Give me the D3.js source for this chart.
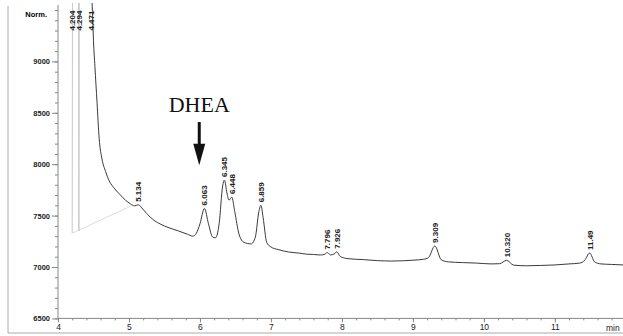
<!DOCTYPE html>
<html>
<head>
<meta charset="utf-8">
<script src="https://cdn.jsdelivr.net/npm/d3@7"></script>
<style>
  body { margin: 0; background: #fff; }
  svg { display: block; }
  .axis text { font-family: "Liberation Sans", Arial, sans-serif; fill: #222; }
  .axis path, .axis line { stroke: #888; }
  .peakLabel { font-family: "Liberation Sans", Arial, sans-serif; font-size: 8px; font-weight: bold; fill: #222; }
</style>
</head>
<body>
<script>
// chromatogram trace (retention time in min, signal in Norm.)
const solventTime  = [4.200, 4.204, 4.210, 4.290, 4.294, 4.300, 4.310, 4.380, 4.471];
const solventValue = [7330, 9700, 9700, 9700, 7350, 9700, 9700, 9700, 9700];

const traceTime = [4.471, 4.49, 4.50, 4.52, 4.55, 4.58, 4.62, 4.67, 4.72, 4.80, 4.88, 4.95, 5.02, 5.08,
  5.134, 5.18, 5.25, 5.35, 5.45, 5.55, 5.70, 5.82, 5.90, 5.95, 6.00, 6.063, 6.12, 6.18, 6.22,
  6.27, 6.32, 6.345, 6.38, 6.41, 6.448, 6.49, 6.55, 6.62, 6.72, 6.78, 6.83, 6.859, 6.89, 6.94,
  7.00, 7.10, 7.25, 7.40, 7.50, 7.60, 7.70, 7.75, 7.796, 7.84, 7.90, 7.926, 7.98, 8.10, 8.30,
  8.50, 8.70, 9.00, 9.15, 9.22, 9.309, 9.40, 9.50, 9.70, 9.90, 10.10, 10.22, 10.320, 10.42,
  10.60, 10.80, 11.00, 11.20, 11.35, 11.42, 11.49, 11.56, 11.65, 11.80, 11.96];
const traceValue = [9700, 9400, 9200, 8950, 8600, 8250, 8050, 7930, 7840, 7760, 7700, 7650, 7615, 7595,
  7605, 7575, 7520, 7455, 7415, 7385, 7350, 7320, 7300, 7330, 7420, 7570, 7420, 7290, 7285,
  7420, 7790, 7846, 7720, 7650, 7680, 7540, 7320, 7240, 7225, 7290, 7540, 7600, 7480, 7240,
  7195, 7170, 7146, 7135, 7125, 7122, 7117, 7122, 7140, 7118, 7130, 7148, 7100, 7080, 7072,
  7062, 7058, 7066, 7075, 7092, 7205, 7070, 7050, 7043, 7038, 7030, 7032, 7065, 7018,
  7012, 7015, 7020, 7030, 7038, 7065, 7136, 7050, 7030, 7025, 7020];

// integrated peaks: retention time label and apex height
const peakTime  = [5.134, 6.063, 6.345, 6.448, 6.859, 7.796, 7.926, 9.309, 10.320, 11.49];
const peakValue = [7605, 7570, 7846, 7680, 7600, 7140, 7148, 7205, 7065, 7136];
const peakLabel = ["5.134", "6.063", "6.345", "6.448", "6.859", "7.796", "7.926", "9.309", "10.320", "11.49"];

// off-scale solvent peaks, labelled at the top of the plot
const solventPeakTime  = [4.204, 4.294, 4.471];
const solventPeakLabel = ["4.204", "4.294", "4.471"];

// faint integration baseline
const baseTime  = [4.204, 5.05];
const baseValue = [7330, 7600];

const xTicks = [4, 5, 6, 7, 8, 9, 10, 11];
const yTicks = [6500, 7000, 7500, 8000, 8500, 9000];

const width = 623, height = 336;

const svg = d3.select("body").append("svg")
  .attr("width", width)
  .attr("height", height);

const x = d3.scaleLinear().domain([4, 11.96]).range([58, 623]);
const y = d3.scaleLinear().domain([6500, 9500]).range([318.4, 10]);

// outer frame (left and bottom only, as scanned)
svg.append("path")
  .attr("d", `M8,6V333H${width}`)
  .attr("fill", "none")
  .attr("stroke", "#aaa")
  .attr("stroke-width", 1);

svg.append("defs").append("clipPath")
  .attr("id", "plot")
  .append("rect")
  .attr("x", x.range()[0])
  .attr("y", 3)
  .attr("width", x.range()[1] - x.range()[0])
  .attr("height", y(6500) - 3);

// y axis: minor then major
const yMinor = d3.range(6500, 9501, 100);
svg.append("g")
  .attr("class", "axis")
  .attr("transform", `translate(${x(4)},0)`)
  .call(d3.axisLeft(y).tickValues(yMinor).tickSize(3).tickFormat(""))
  .call(g => g.select(".domain").attr("d", `M0,${y(6500)}V5`));

svg.append("g")
  .attr("class", "axis")
  .attr("transform", `translate(${x(4)},0)`)
  .call(d3.axisLeft(y).tickValues(yTicks).tickSize(6).tickPadding(2).tickFormat(d3.format("d")))
  .call(g => g.select(".domain").remove())
  .call(g => g.selectAll("text").style("font-size", "7.5px").style("font-weight", "bold"));

svg.append("text")
  .attr("class", "axis")
  .attr("x", 47)
  .attr("y", 17)
  .attr("text-anchor", "end")
  .style("font-family", "Liberation Sans, Arial, sans-serif")
  .style("font-size", "7.5px")
  .style("font-weight", "bold")
  .text("Norm.");

// x axis
const xMinor = d3.range(4, 11.96, 0.2);
svg.append("g")
  .attr("class", "axis")
  .attr("transform", `translate(0,${y(6500)})`)
  .call(d3.axisBottom(x).tickValues(xMinor).tickSize(2).tickFormat(""))
  .call(g => g.select(".domain").attr("d", `M${x(4)},0H${width}`));

svg.append("g")
  .attr("class", "axis")
  .attr("transform", `translate(0,${y(6500)})`)
  .call(d3.axisBottom(x).tickValues(xTicks).tickSize(4).tickPadding(2).tickFormat(d3.format("d")))
  .call(g => g.select(".domain").remove())
  .call(g => g.selectAll("text").style("font-size", "8.5px"));

svg.append("text")
  .attr("x", 606)
  .attr("y", y(6500) + 13)
  .style("font-family", "Liberation Sans, Arial, sans-serif")
  .style("font-size", "8.5px")
  .style("fill", "#222")
  .text("min");

const plot = svg.append("g").attr("clip-path", "url(#plot)");

// faint baseline
plot.append("path")
  .datum(d3.zip(baseTime, baseValue))
  .attr("fill", "none")
  .attr("stroke", "#ddd")
  .attr("stroke-width", 1)
  .attr("d", d3.line().x(d => x(d[0])).y(d => y(d[1])));

const line = d3.line()
  .x(d => x(d[0]))
  .y(d => y(d[1]))
  .curve(d3.curveMonotoneX);

plot.append("path")
  .datum(d3.zip(solventTime, solventValue))
  .attr("fill", "none")
  .attr("stroke", "#c8c8c8")
  .attr("stroke-width", 1)
  .attr("d", d3.line().x(d => x(d[0])).y(d => y(d[1])));

plot.append("path")
  .datum(d3.zip(traceTime, traceValue))
  .attr("fill", "none")
  .attr("stroke", "#3a3a3a")
  .attr("stroke-width", 1)
  .attr("d", line);

// peak labels, rotated, above each apex
svg.selectAll("text.peakLabel")
  .data(d3.zip(peakTime, peakValue, peakLabel))
  .enter()
  .append("text")
  .attr("class", "peakLabel")
  .attr("transform", d => `translate(${x(d[0]) + 3},${y(d[1]) - 3}) rotate(-90)`)
  .text(d => d[2]);

svg.selectAll("text.solventLabel")
  .data(d3.zip(solventPeakTime, solventPeakLabel))
  .enter()
  .append("text")
  .attr("class", "peakLabel")
  .attr("transform", d => `translate(${x(d[0]) + 3},${y(9300)}) rotate(-90)`)
  .text(d => d[1]);

// DHEA annotation
const dheaTime = 5.99;
svg.append("text")
  .attr("x", x(dheaTime))
  .attr("y", y(8505))
  .attr("text-anchor", "middle")
  .style("font-family", "Liberation Serif, Times New Roman, serif")
  .style("font-size", "22px")
  .style("fill", "#111")
  .text("DHEA");

svg.append("line")
  .attr("x1", x(dheaTime))
  .attr("x2", x(dheaTime))
  .attr("y1", y(8410))
  .attr("y2", y(8150))
  .attr("stroke", "#111")
  .attr("stroke-width", 3);

svg.append("path")
  .attr("d", `M${x(dheaTime) - 6},${y(8200)}L${x(dheaTime) + 6},${y(8200)}L${x(dheaTime)},${y(7990)}Z`)
  .attr("fill", "#111");
</script>
</body>
</html>
